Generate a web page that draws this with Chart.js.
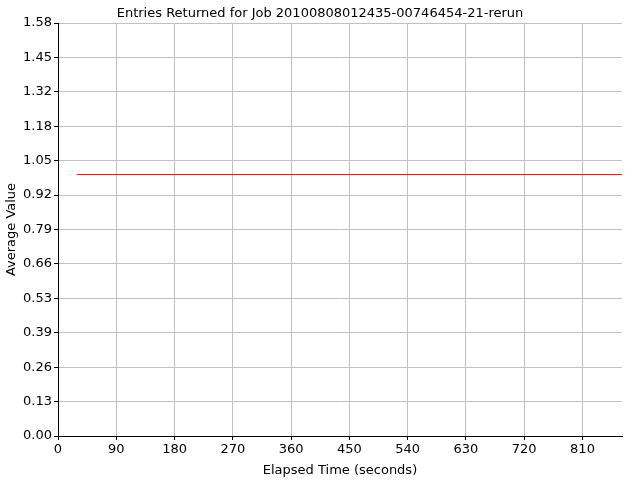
<!DOCTYPE html>
<html>
<head>
<meta charset="utf-8">
<script src="https://cdn.jsdelivr.net/npm/chart.js@4"></script>
<style>
  html, body { margin: 0; padding: 0; background: #fff; }
</style>
</head>
<body>
<canvas id="chartJob" width="640" height="480"></canvas>
<script>
// elapsed time (s) and average value of the returned entries
var elapsed = [29, 871];
var avgValue = [1.0, 1.0];

var yTickLabels = ["0.00", "0.13", "0.26", "0.39", "0.53", "0.66", "0.79",
                   "0.92", "1.05", "1.18", "1.32", "1.45", "1.58"];
var yMax = 1.58;
var xMax = 871;
var xStep = 90;

var points = elapsed.map(function (t, i) { return { x: t, y: avgValue[i] }; });

var fontFam = "'DejaVu Sans', Verdana, sans-serif";
Chart.defaults.font.family = fontFam;
Chart.defaults.font.size = 13;
Chart.defaults.color = "#000";

// centre the title on the whole canvas, not on the padded layout box
var titleCenter = {
    id: 'titleCenter',
    afterLayout: function (chart) {
        if (chart.titleBlock) {
            chart.titleBlock.left = 0;
            chart.titleBlock.right = chart.width;
        }
    }
};

var ctx = document.getElementById("chartJob");
var myChart = new Chart(ctx, {
    type: 'scatter',
    data: {
        datasets: [{
            label: "Entries Returned",
            data: points,
            showLine: true,
            borderColor: "#ff0000",
            backgroundColor: "#ff0000",
            borderWidth: 1,
            pointRadius: 0
        }]
    },
    options: {
        responsive: false,
        animation: false,
        layout: { padding: { left: 0, right: 18, top: 0, bottom: 0 } },
        plugins: {
            legend: { display: false },
            tooltip: { enabled: false },
            title: {
                display: true,
                text: "Entries Returned for Job 20100808012435-00746454-21-rerun",
                color: "#000",
                font: { size: 13, weight: 'normal' },
                padding: { top: 5.5, bottom: 1.9 }
            }
        },
        scales: {
            x: {
                type: 'linear',
                min: 0,
                max: xMax,
                afterFit: function (scale) { scale.height = 44; },
                ticks: { stepSize: xStep, includeBounds: false, autoSkip: false, padding: 2, maxRotation: 0, color: "#000" },
                grid: { color: "#c0c0c0", tickColor: "#000", tickLength: 4 },
                border: { color: "#000", width: 1 },
                title: { display: true, text: "Elapsed Time (seconds)", color: "#000", padding: { top: 1, bottom: 2 } }
            },
            y: {
                min: 0,
                max: yMax,
                afterFit: function (scale) { scale.width = 58; },
                afterBuildTicks: function (scale) {
                    scale.ticks = yTickLabels.map(function (lbl, i) { return { value: yMax * i / (yTickLabels.length - 1) }; });
                },
                ticks: {
                    padding: 2,
                    autoSkip: false,
                    color: "#000",
                    callback: function (value, index) { return yTickLabels[index]; }
                },
                grid: { color: "#c0c0c0", tickColor: "#000", tickLength: 4 },
                border: { color: "#000", width: 1 },
                title: { display: true, text: "Average Value", color: "#000", padding: { top: 4, bottom: 2 } }
            }
        }
    },
    plugins: [titleCenter]
});
</script>
</body>
</html>
